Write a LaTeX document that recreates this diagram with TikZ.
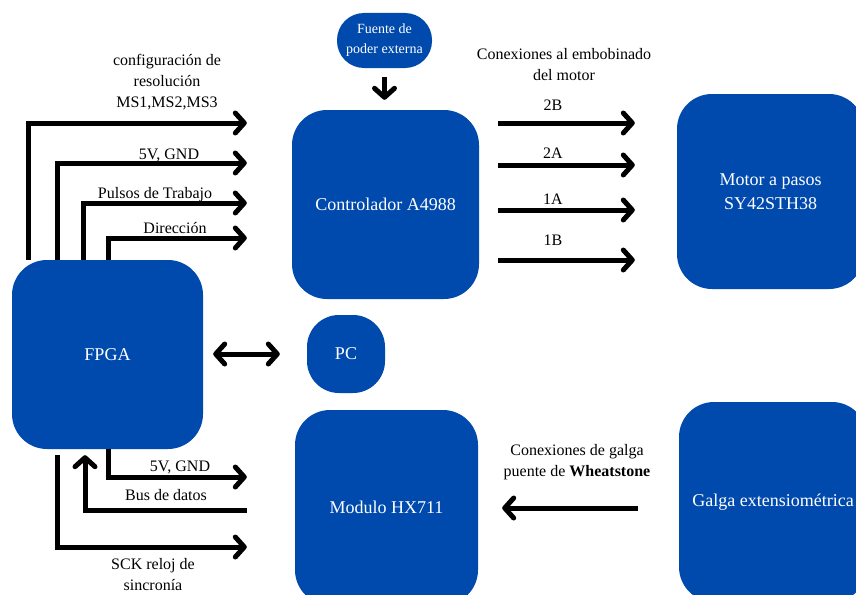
\documentclass[tikz,border=0pt]{standalone}
\usepackage{fontspec}
\setmainfont{Liberation Serif}
\usetikzlibrary{arrows.meta}
\definecolor{azul}{HTML}{004AAD}
\tikzset{
  bloque/.style={fill=azul, text=white, rounded corners=35pt, inner sep=0pt, align=center, font=\fontsize{18}{24}\selectfont},
  flecha/.style={line width=5pt, -{Straight Barb[length=9pt,width=20pt,round]}},
  doble/.style={line width=5pt, {Straight Barb[length=9pt,width=20pt,round]}-{Straight Barb[length=9pt,width=20pt,round]}},
  etiq/.style={inner sep=0pt, align=center, font=\fontsize{16}{21}\selectfont}
}
\begin{document}
\begin{tikzpicture}[x=1pt,y=-1pt]
\useasboundingbox (0,0) rectangle (856,594);
\clip (0,0) rectangle (856,594);
% bloques
\node[bloque, minimum width=191pt, minimum height=189pt] (fpga) at (107.5,354.5) {FPGA};
\node[bloque, minimum width=187pt, minimum height=189pt] (ctrl) at (385.5,204.5) {Controlador A4988};
\node[bloque, minimum width=187pt, minimum height=195pt] (motor) at (770.5,191.5) {Motor a pasos\\SY42STH38};
\node[bloque, rounded corners=32pt, minimum width=78pt, minimum height=78pt] (pc) at (346,354) {PC};
\node[bloque, minimum width=183pt, minimum height=195pt] (hx) at (386.5,507.5) {Modulo HX711};
\node[bloque, minimum width=188pt, minimum height=200pt] (galga) at (773,502) {Galga extensiométrica};
\node[bloque, rounded corners=27pt, minimum width=95pt, minimum height=55pt, font=\fontsize{14}{20}\selectfont] (fuente) at (384.5,40.5) {Fuente de\\poder externa};
% FPGA -> controlador
\foreach \x/\y in {28/123, 57/163, 83/203, 108/238}
  \draw[flecha, shorten >=45pt] (\x,0 |- fpga.north) |- (ctrl.west |- 0,\y);
\node[etiq] (lconf) at (167,82) {configuración de\\resolución\\MS1,MS2,MS3};
\node[etiq] (l5v) at (169,155) {5V, GND};
\node[etiq] (lpul) at (155,195) {Pulsos de Trabajo};
\node[etiq] (ldir) at (175,228) {Dirección};
% fuente
\draw[flecha, shorten <=9pt, shorten >=10pt] (fuente.south) -- (fuente.south |- ctrl.north);
% controlador -> motor
\foreach \y/\ly/\t in {123/105/2B, 165/153/2A, 210/199/1A, 260/240/1B}{
  \draw[flecha, shorten <=19pt, shorten >=42pt] (ctrl.east |- 0,\y) -- (motor.west |- 0,\y);
  \node[etiq] at (553,\ly) {\t};
}
\node[etiq] (lcon) at (564,65) {Conexiones al embobinado\\del motor};
% FPGA <-> PC
\draw[doble, shorten <=10pt, shorten >=27pt] (fpga.east |- pc.west) -- (pc.west);
% FPGA <-> HX711
\draw[flecha, shorten >=48pt] (108,0 |- fpga.south) |- (hx.west |- 0,477);
\draw[flecha, shorten <=48pt, shorten >=6pt] (hx.west |- 0,510) -| (85,0 |- fpga.south);
\draw[flecha, shorten <=6pt, shorten >=48pt] (57,0 |- fpga.south) |- (hx.west |- 0,547);
\node[etiq] (l5vb) at (180,467) {5V, GND};
\node[etiq] (lbus) at (166,495) {Bus de datos};
\node[etiq] (lsck) at (153,575) {SCK reloj de\\sincronía};
% galga -> HX711
\draw[flecha, shorten <=41pt, shorten >=24pt] (galga.west |- 0,508) -- (hx.east |- 0,508);
\node[etiq] (lgal) at (577,462) {Conexiones de galga\\puente de \textbf{Wheatstone}};
\end{tikzpicture}
\end{document}
